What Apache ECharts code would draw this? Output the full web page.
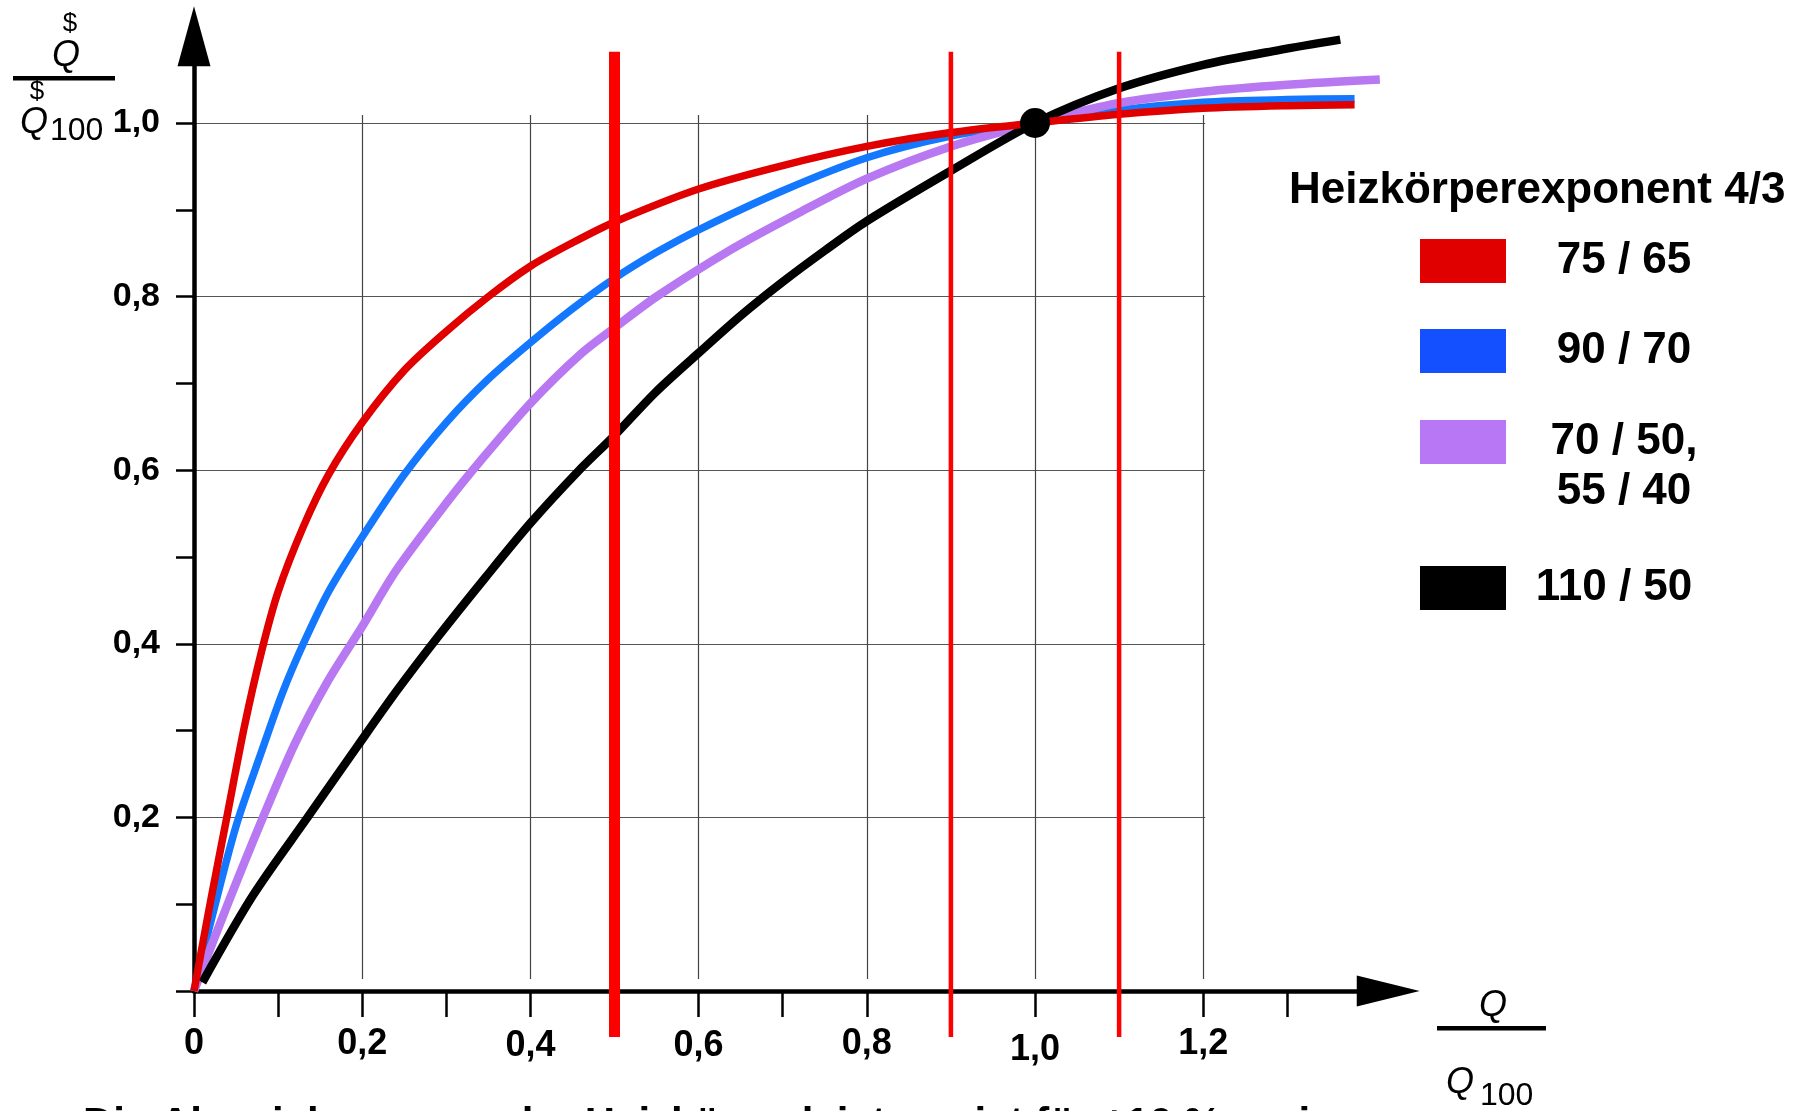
<!DOCTYPE html>
<html>
<head>
<meta charset="utf-8">
<title>Heizkörperexponent 4/3</title>
<script src="https://cdn.jsdelivr.net/npm/echarts@6/dist/echarts.min.js"></script>
<style>
    html, body { margin: 0; padding: 0; background: #fff; }
    #chart { width: 1810px; height: 1111px; }
</style>
</head>
<body>
<div id="chart"></div>
<script>
const FONT = '"Liberation Sans", Arial, Helvetica, sans-serif'

// Q/Q100 -> Qdot/Qdot100
const x7565 = [0, 0.02, 0.04, 0.06, 0.08, 0.1, 0.13, 0.16, 0.2, 0.25, 0.3, 0.35, 0.4, 0.45, 0.5, 0.6, 0.7, 0.8, 0.9, 1.0, 1.1, 1.2, 1.3, 1.38]
const y7565 = [0, 0.105, 0.205, 0.305, 0.39, 0.46, 0.535, 0.595, 0.655, 0.715, 0.76, 0.8, 0.835, 0.862, 0.886, 0.924, 0.951, 0.973, 0.989, 1.0, 1.01, 1.017, 1.02, 1.021]

const x9070 = [0, 0.02, 0.05, 0.08, 0.105, 0.13, 0.16, 0.2, 0.25, 0.3, 0.35, 0.4, 0.45, 0.5, 0.55, 0.6, 0.7, 0.8, 0.9, 1.0, 1.1, 1.2, 1.3, 1.38]
const y9070 = [0, 0.08, 0.19, 0.275, 0.343, 0.4, 0.46, 0.523, 0.595, 0.655, 0.705, 0.747, 0.786, 0.821, 0.851, 0.877, 0.922, 0.96, 0.985, 1.0, 1.015, 1.024, 1.027, 1.028]

const x7050 = [0, 0.04, 0.082, 0.12, 0.158, 0.2, 0.24, 0.3, 0.34, 0.4, 0.46, 0.5, 0.55, 0.64, 0.72, 0.8, 0.9, 1.0, 1.1, 1.2, 1.3, 1.41]
const y7050 = [0, 0.1, 0.2, 0.285, 0.355, 0.42, 0.484, 0.562, 0.61, 0.677, 0.734, 0.764, 0.8, 0.855, 0.897, 0.936, 0.973, 1.0, 1.023, 1.036, 1.044, 1.05]

const x11050 = [0.01, 0.07, 0.135, 0.195, 0.242, 0.29, 0.347, 0.4, 0.457, 0.5, 0.548, 0.6, 0.65, 0.7, 0.75, 0.8, 0.9, 1.0, 1.1, 1.2, 1.29, 1.363]
const y11050 = [0.01, 0.11, 0.2, 0.283, 0.347, 0.408, 0.477, 0.539, 0.599, 0.64, 0.689, 0.735, 0.778, 0.817, 0.853, 0.887, 0.945, 1.0, 1.04, 1.067, 1.084, 1.096]

const seriesNames = ['75 / 65', '90 / 70', '70 / 50,\n55 / 40', '110 / 50']

// red marker lines at 50 %, 90 % and 110 %
const refLinesX = [0.5, 0.9, 1.1]
const refLineTop = 1.082
const refLineBottom = -0.053
const designPoint = [[1.0, 1.0]]

const xTickValues = [0, 0.1, 0.2, 0.3, 0.4, 0.5, 0.6, 0.7, 0.8, 0.9, 1.0, 1.1, 1.2, 1.3]
const xLabelValues = [0, 0.2, 0.4, 0.6, 0.8, 1.0, 1.2]
const yTickValues = [0, 0.1, 0.2, 0.3, 0.4, 0.5, 0.6, 0.7, 0.8, 0.9, 1.0]
const yLabelValues = [0.2, 0.4, 0.6, 0.8, 1.0]
const gridXMax = 1.2
const gridYMax = 1.0

const legendTitle = 'Heizkörperexponent 4/3'
const caption = 'Die Abweichung von der Heizkörperleistung ist für ±10 % gering'

// layout
const ORIGIN_X = 194
const ORIGIN_Y = 991
const PX_X = 841
const PX_Y = 868
const XMAX = 1.42
const YMAX = 1.1

const zip = (xs, ys) => xs.map((x, i) => [x, ys[i]])
const fmt = v => v === 0 ? '0' : v.toFixed(1).replace('.', ',')

// small vertical offsets of the x labels as in the picture
const xLabelDrop = [0, 1, 5, 4, 1, 13, 0]
const xRich = {}
xLabelDrop.forEach((d, i) => {
    xRich['d' + i] = {
        fontFamily: FONT, fontSize: 36, fontWeight: 'bold', color: '#000',
        lineHeight: 36, padding: [d, 0, 0, 0],
    }
})

const legendText = width => ({
    c: {
        width: width, align: 'center', fontFamily: FONT, fontSize: 44,
        fontWeight: 'bold', lineHeight: 50, color: '#000',
    },
})
const legendFormatter = name => name.split('\n').map(s => `{c|${s}}`).join('\n')

const baseLegend = {
    orient: 'vertical',
    left: 1420,
    padding: 0,
    icon: 'rect',
    itemWidth: 86,
    itemHeight: 44,
    itemGap: 46,
    selectedMode: false,
    itemStyle: { borderWidth: 0 },
    formatter: legendFormatter,
    textStyle: { rich: legendText(226) },
}

const curves = [
    { name: seriesNames[1], xs: x9070, ys: y9070, color: '#1478ff', width: 7.5 },
    { name: seriesNames[2], xs: x7050, ys: y7050, color: '#b878f2', width: 8.5 },
    { name: seriesNames[3], xs: x11050, ys: y11050, color: '#000000', width: 8.5 },
    { name: seriesNames[0], xs: x7565, ys: y7565, color: '#e00000', width: 7.5 },
]

const curveSeries = curves.map(c => ({
    type: 'line',
    name: c.name,
    xAxisIndex: 0,
    yAxisIndex: 0,
    data: zip(c.xs, c.ys),
    showSymbol: false,
    symbol: 'none',
    smooth: 0.3,
    color: c.color,
    lineStyle: { color: c.color, width: c.width, opacity: 1 },
    z: 3,
}))

const refSeries = refLinesX.map((x, i) => ({
    type: 'line',
    name: 'ref' + i,
    xAxisIndex: 0,
    yAxisIndex: 0,
    data: [[x, refLineTop], [x, refLineBottom]],
    symbol: 'none',
    clip: false,
    lineStyle: { color: '#ff0000', width: i === 0 ? 11 : 4.5, opacity: 1 },
    z: 4,
}))

const pointSeries = {
    type: 'scatter',
    name: 'Auslegungspunkt',
    xAxisIndex: 0,
    yAxisIndex: 0,
    data: designPoint,
    symbolSize: 30,
    itemStyle: { color: '#000', opacity: 1 },
    z: 5,
}

const textEl = (text, x, y, font, align) => ({
    type: 'text',
    x: x,
    y: y,
    style: {
        text: text, font: font, fill: '#000',
        align: align || 'center', verticalAlign: 'middle',
    },
})

const option = {
    animation: false,
    backgroundColor: '#fff',
    title: [
        {
            text: legendTitle, left: 1289, top: 166, padding: 0,
            textStyle: { fontFamily: FONT, fontSize: 44, fontWeight: 'bold', lineHeight: 50, color: '#000' },
        },
        {
            text: caption, left: 83, top: 1104, padding: 0,
            textStyle: { fontFamily: FONT, fontSize: 42, fontWeight: 'bold', lineHeight: 42, color: '#000' },
        },
    ],
    legend: [
        Object.assign({}, baseLegend, {
            top: 239,
            data: [
                { name: seriesNames[0], itemStyle: { color: '#e00000' } },
                { name: seriesNames[1], itemStyle: { color: '#1450ff' } },
            ],
        }),
        Object.assign({}, baseLegend, {
            top: 420,
            data: [{ name: seriesNames[2], itemStyle: { color: '#b878f5' } }],
            textStyle: { rich: legendText(226), padding: [50, 0, 0, 0] },
        }),
        Object.assign({}, baseLegend, {
            top: 566,
            data: [{ name: seriesNames[3], itemStyle: { color: '#000' } }],
            textStyle: { rich: legendText(206) },
        }),
    ],
    grid: [
        {
            left: ORIGIN_X, top: ORIGIN_Y - YMAX * PX_Y,
            width: XMAX * PX_X, height: YMAX * PX_Y,
            containLabel: false, outerBoundsMode: 'none',
        },
        {
            // vertical grid lines
            left: ORIGIN_X, top: ORIGIN_Y - gridYMax * PX_Y - 8,
            width: gridXMax * PX_X, height: gridYMax * PX_Y - 4,
            containLabel: false, outerBoundsMode: 'none',
        },
        {
            // horizontal grid lines
            left: ORIGIN_X, top: ORIGIN_Y - gridYMax * PX_Y,
            width: gridXMax * PX_X + 2, height: gridYMax * PX_Y,
            containLabel: false, outerBoundsMode: 'none',
        },
    ],
    xAxis: [
        {
            type: 'value', gridIndex: 0, min: 0, max: XMAX,
            axisLine: {
                show: true, onZero: false,
                symbol: ['none', 'triangle'], symbolSize: [31, 63],
                lineStyle: { color: '#000', width: 4.5 },
            },
            axisTick: {
                show: true, customValues: xTickValues, length: 26, inside: false,
                lineStyle: { color: '#000', width: 2.5 },
            },
            axisLabel: {
                show: true, customValues: xLabelValues, margin: 35,
                formatter: v => {
                    const i = xLabelValues.findIndex(u => Math.abs(u - v) < 1e-6)
                    return `{d${i < 0 ? 0 : i}|${fmt(v)}}`
                },
                rich: xRich,
            },
            splitLine: { show: false },
        },
        {
            type: 'value', gridIndex: 1, min: 0, max: gridXMax, interval: 0.2,
            axisLine: { show: false }, axisTick: { show: false }, axisLabel: { show: false },
            splitLine: { show: true, lineStyle: { color: '#444', width: 1.2 } },
        },
        {
            type: 'value', gridIndex: 2, min: 0, max: 1, show: false,
        },
    ],
    yAxis: [
        {
            type: 'value', gridIndex: 0, min: 0, max: YMAX,
            axisLine: {
                show: true, onZero: false,
                symbol: ['none', 'triangle'], symbolSize: [33, 60],
                lineStyle: { color: '#000', width: 4.5 },
            },
            axisTick: {
                show: true, customValues: yTickValues, length: 18, inside: false,
                lineStyle: { color: '#000', width: 2.5 },
            },
            axisLabel: {
                show: true, customValues: yLabelValues, margin: 34,
                formatter: v => fmt(v),
                fontFamily: FONT, fontSize: 34, fontWeight: 'bold', color: '#000',
            },
            splitLine: { show: false },
        },
        {
            type: 'value', gridIndex: 1, min: 0, max: 1, show: false,
        },
        {
            type: 'value', gridIndex: 2, min: 0, max: gridYMax, interval: 0.2,
            axisLine: { show: false }, axisTick: { show: false }, axisLabel: { show: false },
            splitLine: { show: true, lineStyle: { color: '#555', width: 1.2 } },
        },
    ],
    graphic: [
        // y axis name: Qdot / Qdot100
        textEl('$', 70, 24, `26px ${FONT}`),
        textEl('Q', 66, 56, `italic 36px ${FONT}`),
        { type: 'rect', shape: { x: 13, y: 76, width: 102, height: 4.5 }, style: { fill: '#000' } },
        textEl('$', 37, 92, `26px ${FONT}`),
        textEl('Q', 34, 123, `italic 36px ${FONT}`),
        textEl('100', 50, 131, `32px ${FONT}`, 'left'),
        // x axis name: Q / Q100
        textEl('Q', 1493, 1006, `italic 36px ${FONT}`),
        { type: 'rect', shape: { x: 1437, y: 1026, width: 109, height: 4.5 }, style: { fill: '#000' } },
        textEl('Q', 1460, 1083, `italic 36px ${FONT}`),
        textEl('100', 1480, 1096, `32px ${FONT}`, 'left'),
    ],
    series: [].concat(curveSeries, refSeries, [pointSeries]),
}

const chart = echarts.init(document.getElementById('chart'), null, { renderer: 'canvas' })
chart.setOption(option)
</script>
</body>
</html>
